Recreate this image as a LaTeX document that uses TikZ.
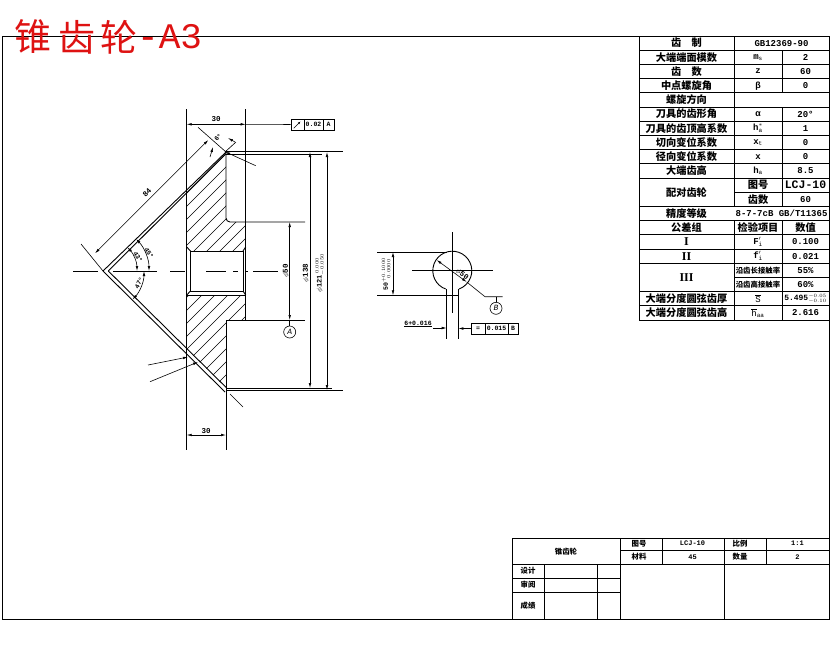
\documentclass[tikz,border=0pt]{standalone}
\usepackage{fontspec}
\usepackage{amssymb}
\setmainfont{Liberation Mono}
\newfontfamily\cjk{Noto Sans CJK SC}
\newfontfamily\romfont{Liberation Serif}
\usetikzlibrary{arrows.meta}
\tikzset{
  part/.style={line width=0.9pt},
  thin line/.style={line width=0.6pt},
  dim/.style={line width=0.6pt,{Latex[length=5pt,width=2.6pt]}-{Latex[length=5pt,width=2.6pt]}},
  lead/.style={line width=0.6pt,-{Latex[length=5pt,width=2.6pt]}},
  hz/.style={font=\cjk\bfseries\fontsize{10.2}{11}\selectfont,inner sep=0pt},
  hzs/.style={font=\cjk\bfseries\fontsize{7.4}{8}\selectfont,inner sep=0pt},
  tval/.style={font=\fontsize{9}{10}\selectfont\bfseries,inner sep=0pt},
  sval/.style={font=\fontsize{7}{8}\selectfont\bfseries,inner sep=0pt},
  dimtxt/.style={font=\fontsize{7.5}{8}\selectfont\bfseries,inner sep=0pt},
  frame cell/.style={draw,line width=0.6pt,minimum height=11pt,inner sep=0pt,font=\fontsize{6.5}{7}\selectfont\bfseries},
  datum/.style={draw,circle,line width=0.6pt,minimum size=12pt,inner sep=0pt,font=\fontsize{8}{8}\selectfont\itshape},
  title/.style={text=titlered,inner sep=0pt},
}
\definecolor{titlered}{HTML}{DE1212}
\begin{document}
\begin{tikzpicture}[x=1pt,y=1pt,yscale=-1]
    \useasboundingbox (0,0) rectangle (830,654);
    % sheet border
    \draw[part] (2,36) rectangle (829,619);
    % title
    \node[title,font=\cjk\fontsize{37}{38}\selectfont] (ttl1) at (33,37) {锥};
    \node[title,font=\cjk\fontsize{37}{38}\selectfont] (ttl2) at (77,37) {齿};
    \node[title,font=\cjk\fontsize{37}{38}\selectfont] (ttl3) at (119,37) {轮};
    \node[title,anchor=west,font=\fontsize{36}{38}\selectfont] (ttl4) at (137,37) {-A3};
    % parameter table
    \draw[part] (639,36) rectangle (829,320);
    \foreach \y in {50.2,64.4,78.6,92.8,107,121.2,135.4,149.6,163.8,178,206.4,220.6,234.8,249,263.2,291.6,305.8}
        \draw[part] (639,\y) -- (829,\y);
    \draw[part] (734,192.2) -- (829,192.2);
    \draw[part] (734,277.4) -- (829,277.4);
    \draw[part] (734,36) -- (734,206.4);
    \draw[part] (734,220.6) -- (734,320);
    \draw[part] (782,50.2) -- (782,92.8);
    \draw[part] (782,107) -- (782,206.4);
    \draw[part] (782,220.6) -- (782,320);
    \node[hz] (n1) at (686.5,43.1) {齿\quad 制};
    \node[hz] (n2) at (686.5,57.3) {大端端面模数};
    \node[hz] (n3) at (686.5,71.5) {齿\quad 数};
    \node[hz] (n4) at (686.5,85.7) {中点螺旋角};
    \node[hz] (n5) at (686.5,99.9) {螺旋方向};
    \node[hz] (n6) at (686.5,114.1) {刀具的齿形角};
    \node[hz] (n7) at (686.5,128.3) {刀具的齿顶高系数};
    \node[hz] (n8) at (686.5,142.5) {切向变位系数};
    \node[hz] (n9) at (686.5,156.7) {径向变位系数};
    \node[hz] (n10) at (686.5,170.9) {大端齿高};
    \node[hz] (n11) at (686.5,192.2) {配对齿轮};
    \node[hz] (n13) at (686.5,213.5) {精度等级};
    \node[hz] (n14) at (686.5,227.7) {公差组};
    \node[tval,font=\romfont\fontsize{12}{12}\selectfont\bfseries] (n15) at (686.5,241.9) {I};
    \node[tval,font=\romfont\fontsize{12}{12}\selectfont\bfseries] (n16) at (686.5,256.1) {II};
    \node[tval,font=\romfont\fontsize{12}{12}\selectfont\bfseries] (n17) at (686.5,277.4) {III};
    \node[hz] (n19) at (686.5,298.7) {大端分度圆弦齿厚};
    \node[hz] (n20) at (686.5,312.9) {大端分度圆弦齿高};
    \node[tval] (m1) at (781.5,43.1) {GB12369-90};
    \node[tval] (m2) at (758,57.3) {m$_{\mathrm{s}}$};
    \node[tval] (m3) at (758,71.5) {z};
    \node[tval] (m4) at (758,85.7) {β};
    \node[tval] (m6) at (758,114.1) {α};
    \node[tval] (m7) at (758,128.3) {h$_{\mathrm{a}}^{*}$};
    \node[tval] (m8) at (758,142.5) {x$_{\mathrm{t}}$};
    \node[tval] (m9) at (758,156.7) {x};
    \node[tval] (m10) at (758,170.9) {h$_{\mathrm{a}}$};
    \node[hz] (m11) at (758,185.1) {图号};
    \node[hz] (m12) at (758,199.3) {齿数};
    \node[tval] (m13) at (781.5,213.5) {8-7-7cB GB/T11365};
    \node[hz] (m14) at (758,227.7) {检验项目};
    \node[tval] (m15) at (758,241.9) {F$_{\mathrm{i}}'$};
    \node[tval] (m16) at (758,256.1) {f$_{\mathrm{i}}'$};
    \node[hzs] (m17) at (758,270.3) {沿齿长接触率};
    \node[hzs] (m18) at (758,284.5) {沿齿高接触率};
    \node[tval] (m19) at (758,298.7) {$\overline{\mathrm{S}}$};
    \node[tval] (m20) at (758,312.9) {$\overline{\mathrm{h}}_{\mathrm{aa}}$};
    \node[tval] (v2) at (805.5,57.3) {2};
    \node[tval] (v3) at (805.5,71.5) {60};
    \node[tval] (v4) at (805.5,85.7) {0};
    \node[tval] (v6) at (805.5,114.1) {20°};
    \node[tval] (v7) at (805.5,128.3) {1};
    \node[tval] (v8) at (805.5,142.5) {0};
    \node[tval] (v9) at (805.5,156.7) {0};
    \node[tval] (v10) at (805.5,170.9) {8.5};
    \node[tval,font=\fontsize{11.5}{12}\selectfont\bfseries] (v11) at (805.5,185.1) {LCJ-10};
    \node[tval] (v12) at (805.5,199.3) {60};
    \node[hz] (v14) at (805.5,227.7) {数值};
    \node[tval] (v15) at (805.5,241.9) {0.100};
    \node[tval] (v16) at (805.5,256.1) {0.021};
    \node[tval] (v17) at (805.5,270.3) {55\%};
    \node[tval] (v18) at (805.5,284.5) {60\%};
    \node[tval,font=\fontsize{8}{9}\selectfont\bfseries] (v19) at (805.5,298.7) {5.495$^{\scriptscriptstyle -0.05}_{\scriptscriptstyle -0.10}$};
    \node[tval] (v20) at (805.5,312.9) {2.616};
    % title block
    \draw[part] (512,538) rectangle (829,619);
    \draw[part] (620,550.5) -- (829,550.5);
    \draw[part] (512,564) -- (829,564);
    \draw[part] (512,578) -- (620,578);
    \draw[part] (512,592) -- (620,592);
    \draw[part] (620,538) -- (620,619);
    \draw[part] (662,538) -- (662,564);
    \draw[part] (724,538) -- (724,619);
    \draw[part] (766,538) -- (766,564);
    \draw[part] (544,564) -- (544,619);
    \draw[part] (597,564) -- (597,619);
    \node[hzs] (b1) at (566,551.5) {锥齿轮};
    \node[hzs] (b2) at (639,543.5) {图号};
    \node[sval] (b3) at (692.5,543.5) {LCJ-10};
    \node[hzs] (b4) at (740,543.5) {比例};
    \node[sval] (b5) at (797.5,543.5) {1:1};
    \node[hzs] (b6) at (639,557) {材料};
    \node[sval] (b7) at (692.5,557) {45};
    \node[hzs] (b8) at (740,557) {数量};
    \node[sval] (b9) at (797.5,557) {2};
    \node[hzs] (b10) at (528,571) {设计};
    \node[hzs] (b11) at (528,585) {审阅};
    \node[hzs] (b12) at (528,606) {成绩};
    % hatching of the gear section
    \begin{scope}
        \clip (226,153.5) -- (186.7,192.7) -- (186.7,247) -- (190.5,251) -- (243,251) -- (245.7,247) -- (245.7,222) -- (226,222) -- cycle
              (186.7,295) -- (245.7,295) -- (245.7,320) -- (226,320) -- (226,388) -- (186.7,349.3) -- cycle;
        \foreach \s in {380,393,...,640}
            \draw[line width=0.5pt] ({\s-130},130) -- ({\s-410},410);
    \end{scope}
    % gear section outline
    \draw[part] (186.7,109) -- (186.7,450);
    \draw[part] (245.7,109) -- (245.7,320);
    \draw[part] (226,152) -- (226,218) to[out=90,in=180] (230,222) -- (305,222);
    \draw[part] (226,320) -- (305,320);
    \draw[part] (226,320) -- (226,450);
    \draw[part] (190.5,251) rectangle (243,291);
    \draw[part] (186.7,247) -- (190.5,251);
    \draw[part] (245.7,247) -- (243,251);
    \draw[part] (186.7,295) -- (190.5,291);
    \draw[part] (245.7,295) -- (243,291);
    \draw[part] (186.7,295) -- (245.7,295);
    % cone lines
    \draw[part] (103,271) -- (226,152);
    \draw[part] (108.3,271) -- (226,153.5);
    \draw[part] (103,271) -- (225,392);
    \draw[part] (108.3,271) -- (226.7,388);
    % centre line
    \foreach \a/\b in {73/98,113/157,170/185,206/226,233/238,245/248,253/278}
        \draw[thin line] (\a,271) -- (\b,271);
    % dimensions on the section
    \draw[part] (226,151.7) -- (343,151.7);
    \draw[thin line] (226,154) -- (322,154);
    \draw[part] (226,388) -- (332,388);
    \draw[part] (226,390) -- (343,390);
    \draw[dim] (186.7,124.3) -- (245.7,124.3);
    \node[dimtxt] (len1) at (216,119) {30};
    \draw[dim] (186.7,435) -- (226,435);
    \node[dimtxt] (len2) at (206,431) {30};
    \draw[dim] (289.7,222) -- (289.7,320);
    \node[dimtxt,rotate=90] (dia1) at (286,271) {$\phi$50};
    \draw[dim] (310,152) -- (310,388);
    \node[dimtxt,rotate=90] (dia2) at (306,273) {$\phi$138};
    \draw[dim] (327,152) -- (327,390);
    \node[dimtxt,rotate=90,font=\fontsize{7}{7}\selectfont\bfseries] (dia3) at (320,273) {$\phi$121$^{\,0.000}_{-0.050}$};
    % dimension along the cone
    \draw[thin line] (103,271) -- (81,244);
    \draw[thin line] (226,152) -- (198,127.3);
    \draw[dim] (95,253.3) -- (208.3,140);
    \node[dimtxt,rotate=45] (len3) at (147,193) {84};
    % cone angles
    \draw[dim] ([shift={(-44:46pt)}]103,271) arc[start angle=-44,end angle=0,radius=46pt];
    \draw[dim] ([shift={(-44:34pt)}]103,271) arc[start angle=-44,end angle=0,radius=34pt];
    \draw[dim] ([shift={(0:41pt)}]103,271) arc[start angle=0,end angle=44,radius=41pt];
    \node[dimtxt,rotate=-60,font=\fontsize{6.5}{7}\selectfont\bfseries] (ang1) at (149,253) {45°};
    \node[dimtxt,rotate=-60,font=\fontsize{6.5}{7}\selectfont\bfseries] (ang2) at (138,257) {43°};
    \node[dimtxt,rotate=60,font=\fontsize{6.5}{7}\selectfont\bfseries] (ang3) at (139,283) {47°};
    % tip of the cone
    \coordinate (tipa) at (225,151.7);
    \coordinate (tipb) at (255.7,165.7);
    \draw[lead] (tipb) -- (tipa);
    \draw[thin line] (225,152) -- (236,142);
    \draw[lead] (210,157) -- (213,147);
    \draw[lead] (235,142) -- (228,138);
    \node[dimtxt,rotate=45,font=\fontsize{6.5}{7}\selectfont\bfseries] (ang4) at (218,137.5) {6°};
    % surface leaders at the lower end
    \coordinate (lowa) at (148,365);
    \coordinate (lowb) at (188,357);
    \coordinate (lowc) at (150,381.7);
    \coordinate (lowd) at (198,362);
    \draw[lead] (lowa) -- (lowb);
    \draw[lead] (lowc) -- (lowd);
    \draw[thin line] (230,394) -- (243,407);
    % run-out frame and datum
    \node[frame cell,minimum width=13pt] (fa1) at (297.5,124.5) {};
    \node[frame cell,minimum width=19pt] (fa2) at (313.5,124.5) {0.02};
    \node[frame cell,minimum width=11pt] (fa3) at (328.5,124.5) {A};
    \draw[line width=0.5pt,-{Latex[length=3pt,width=2pt]}] (fa1.south west) ++(3,-2) -- ++(7,-7);
    \draw[thin line] (245.7,124.3) -- (fa1);
    \node[datum] (dma) at (289.7,332) {A};
    \draw[thin line] (289.7,320) -- (dma);
    % end view of the bore
    \draw[part] ([shift={(110:19.5pt)}]452.3,270.7) arc[start angle=110,end angle=430,radius=19.5pt];
    \draw[part] (377,252) -- (447,252);
    \draw[part] (377,295.3) -- (458.3,295.3);
    \draw[part] (446.7,289) -- (446.7,339);
    \draw[part] (458.3,289) -- (458.3,339);
    \draw[thin line] (412,270.7) -- (492.7,270.7);
    \draw[thin line] (452.3,232) -- (452.3,313);
    \draw[dim] (393,252) -- (393,295.3);
    \node[dimtxt,rotate=90,font=\fontsize{6.5}{7}\selectfont\bfseries] (wid1) at (386,274) {50$^{+0.1000}_{\ 0.0000}$};
    \coordinate (dia4a) at (436.7,260);
    \coordinate (dia4b) at (485,296.7);
    \draw[dim] (dia4a) -- (466.7,282);
    \draw[thin line] (466.7,282) -- (dia4b) -- (502.7,296.7);
    \node[dimtxt,rotate=-38] (dia4) at (462,274.5) {$\phi$50};
    \node[datum] (dmb) at (496,308.3) {B};
    \draw[thin line] (496,296.7) -- (dmb);
    % key slot width and symmetry frame
    \node[dimtxt,font=\fontsize{6.5}{7}\selectfont\bfseries] (wid2) at (418,324) {\underline{6+0.016}};
    \draw[lead] (433,328) -- (446.7,328);
    \node[frame cell,minimum width=14pt] (fb1) at (478,328.5) {=};
    \node[frame cell,minimum width=23pt] (fb2) at (496.5,328.5) {0.015};
    \node[frame cell,minimum width=10pt] (fb3) at (513,328.5) {B};
    \draw[lead] (fb1) -- (458.3,328.5);
\end{tikzpicture}
\end{document}
